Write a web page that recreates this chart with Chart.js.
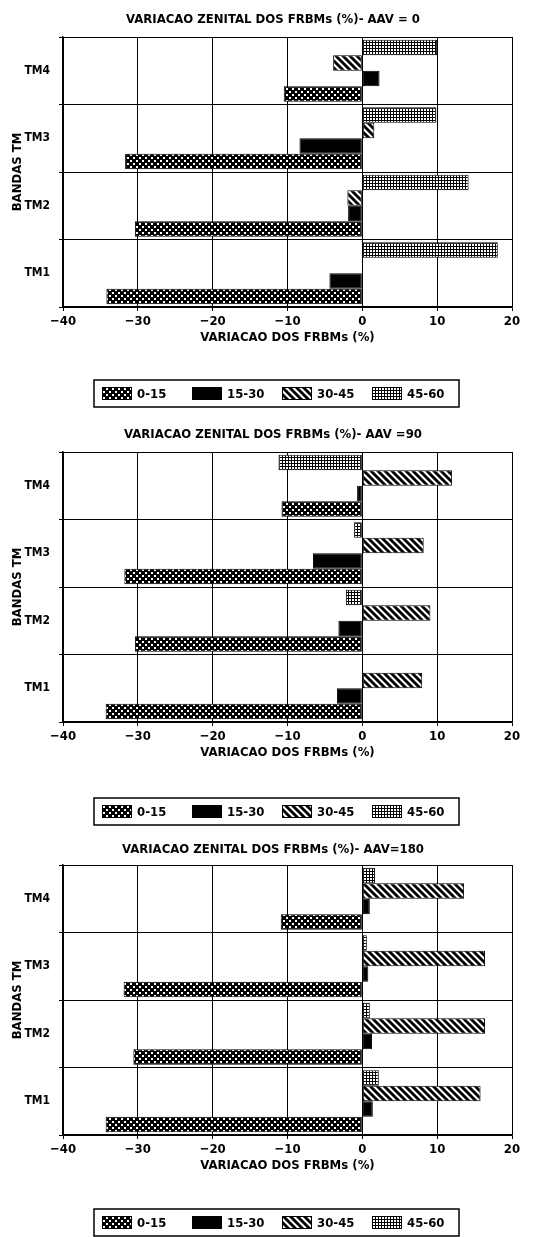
<!DOCTYPE html>
<html>
<head>
<meta charset="utf-8">
<script src="https://cdn.jsdelivr.net/npm/chart.js@4"></script>
<style>
  html, body { margin: 0; padding: 0; background: #fff; }
  body { width: 536px; height: 1237px; position: relative; overflow: hidden; }
  .panel { position: absolute; left: 0; width: 536px; }
</style>
</head>
<body>
<div class="panel" style="top:0;height:415px"><canvas id="aav0"></canvas></div>
<div class="panel" style="top:415px;height:420px"><canvas id="aav90"></canvas></div>
<div class="panel" style="top:835px;height:402px"><canvas id="aav180"></canvas></div>
<script>
// Bands listed top to bottom
const bands = ['TM4', 'TM3', 'TM2', 'TM1'];
// Zenith-angle classes (legend order)
const classes = ['0-15', '15-30', '30-45', '45-60'];
const xTicks = [-40, -30, -20, -10, 0, 10, 20];

// AAV = 0 : variation (%) per band, TM4..TM1
const aav0_0to15  = [-10.5, -31.7, -30.4, -34.2];
const aav0_15to30 = [2.3, -8.4, -1.9, -4.4];
const aav0_30to45 = [-3.9, 1.6, -2.0, null];
const aav0_45to60 = [10.0, 9.9, 14.2, 18.1];

// AAV = 90
const aav90_0to15  = [-10.8, -31.8, -30.4, -34.3];
const aav90_15to30 = [-0.7, -6.6, -3.2, -3.4];
const aav90_30to45 = [12.0, 8.2, 9.1, 8.0];
const aav90_45to60 = [-11.2, -1.1, -2.2, null];

// AAV = 180
const aav180_0to15  = [-10.9, -31.9, -30.6, -34.3];
const aav180_15to30 = [1.0, 0.8, 1.3, 1.4];
const aav180_30to45 = [13.6, 16.4, 16.4, 15.8];
const aav180_45to60 = [1.7, 0.6, 1.0, 2.2];

const titles = [
  'VARIACAO ZENITAL DOS FRBMs (%)- AAV = 0',
  'VARIACAO ZENITAL DOS FRBMs (%)- AAV =90',
  'VARIACAO ZENITAL DOS FRBMs (%)- AAV=180'
];
const xTitle = 'VARIACAO DOS FRBMs (%)';
const yTitle = 'BANDAS TM';

const FAMILY = "'Liberation Sans Narrow', 'DejaVu Sans Condensed', 'Liberation Sans', sans-serif";

// ---- fill patterns for each class ----
function tile(w, h, paint) {
  const c = document.createElement('canvas');
  c.width = w; c.height = h;
  const g = c.getContext('2d');
  paint(g, w, h);
  return g.createPattern(c, 'repeat');
}
// black with staggered white dots
const dotted = tile(6, 6, (g, w, h) => {
  g.fillStyle = '#000'; g.fillRect(0, 0, w, h);
  g.fillStyle = '#fff'; g.fillRect(1, 1, 2, 2); g.fillRect(4, 4, 2, 2);
});
const solid = '#000';
// heavy diagonal hatching
const hatched = tile(7, 7, (g, w, h) => {
  g.fillStyle = '#fff'; g.fillRect(0, 0, w, h);
  g.strokeStyle = '#000'; g.lineWidth = 2.8;
  for (const c of [-7, 0, 7]) {
    g.beginPath(); g.moveTo(-3, c - 3); g.lineTo(10, c + 10); g.stroke();
  }
});
// fine black grid with white cells
const gridded = tile(3, 3, (g, w, h) => {
  g.fillStyle = '#000'; g.fillRect(0, 0, w, h);
  g.fillStyle = '#fff'; g.fillRect(1, 1, 2, 2);
});
const fills = [dotted, solid, hatched, gridded];

// Title and boxed legend drawn for every panel
const panelDecor = {
  id: 'panelDecor',
  afterDraw(chart, args, o) {
    const ctx = chart.ctx;
    const area = chart.chartArea;
    ctx.save();
    ctx.fillStyle = '#000';
    ctx.font = o.titleFont;
    ctx.textAlign = 'center';
    ctx.textBaseline = 'middle';
    ctx.fillText(o.title, o.titleX, o.titleY);

    const top = area.bottom + o.legendGap;
    ctx.strokeStyle = '#000';
    ctx.lineWidth = 1.5;
    ctx.strokeRect(o.legendLeft, top, o.legendWidth, o.legendHeight);
    ctx.font = o.legendFont;
    ctx.textAlign = 'left';
    const items = chart.data.datasets.slice().reverse();
    items.forEach((ds, i) => {
      const x = o.legendLeft + 8 + i * o.legendStep;
      const y = top + (o.legendHeight - 13) / 2;
      ctx.fillStyle = ds.backgroundColor;
      ctx.fillRect(x, y, 30, 13);
      ctx.lineWidth = 1;
      ctx.strokeRect(x + 0.5, y + 0.5, 29, 12);
      ctx.fillStyle = '#000';
      ctx.fillText(ds.label, x + 35, top + o.legendHeight / 2 + 1);
    });
    ctx.restore();
  }
};

function makePanel(id, series, title, L) {
  const font = { family: FAMILY, size: 13, weight: 'bold' };
  const bandFont = { family: FAMILY, size: 12, weight: 'bold' };
  // datasets ordered top to bottom inside each band: 45-60 first
  const order = [3, 2, 1, 0];
  return new Chart(document.getElementById(id), {
    type: 'bar',
    data: {
      labels: bands,
      datasets: order.map(i => ({
        label: classes[i],
        data: series[i],
        backgroundColor: fills[i],
        borderColor: '#000',
        borderWidth: 1,
        borderSkipped: false
      }))
    },
    options: {
      indexAxis: 'y',
      responsive: true,
      maintainAspectRatio: false,
      animation: false,
      datasets: { bar: { categoryPercentage: 0.92, barPercentage: 1 } },
      layout: { padding: { left: 0, right: 24, top: L.top, bottom: L.bottom } },
      plugins: {
        legend: { display: false },
        tooltip: { enabled: false },
        title: { display: false },
        panelDecor: {
          title: title, titleX: 273, titleY: L.titleY,
          titleFont: `bold 13px ${FAMILY}`,
          legendFont: `bold 13px ${FAMILY}`,
          legendGap: L.legendGap, legendLeft: 94, legendWidth: 365, legendHeight: 27, legendStep: 90
        }
      },
      scales: {
        x: {
          min: xTicks[0], max: xTicks[xTicks.length - 1],
          afterBuildTicks: s => { s.ticks = xTicks.map(v => ({ value: v })); },
          ticks: { color: '#000', font: font, padding: 3,
                   callback: v => String(v).replace('-', '\u2212') },
          grid: { color: '#000', lineWidth: 1, tickLength: 4 },
          border: { color: '#000', width: 1.5 },
          title: { display: true, text: xTitle, color: '#000', font: font, padding: { top: 0, bottom: 7 } },
          afterFit: s => { s.height = 45; }
        },
        y: {
          ticks: { color: '#000', font: bandFont, padding: 9 },
          grid: { color: '#000', lineWidth: 1, tickLength: 4, offset: true },
          border: { color: '#000', width: 1.5 },
          title: { display: true, text: yTitle, color: '#000', font: font, padding: { top: 10, bottom: 0 } },
          afterFit: s => { s.width = 63; }
        }
      }
    },
    plugins: [panelDecor]
  });
}

makePanel('aav0', [aav0_0to15, aav0_15to30, aav0_30to45, aav0_45to60], titles[0],
  { top: 37, bottom: 63, titleY: 20, legendGap: 73 });
makePanel('aav90', [aav90_0to15, aav90_15to30, aav90_30to45, aav90_45to60], titles[1],
  { top: 37, bottom: 68, titleY: 20, legendGap: 76 });
makePanel('aav180', [aav180_0to15, aav180_15to30, aav180_30to45, aav180_45to60], titles[2],
  { top: 30, bottom: 57, titleY: 15, legendGap: 74 });
</script>
</body>
</html>
